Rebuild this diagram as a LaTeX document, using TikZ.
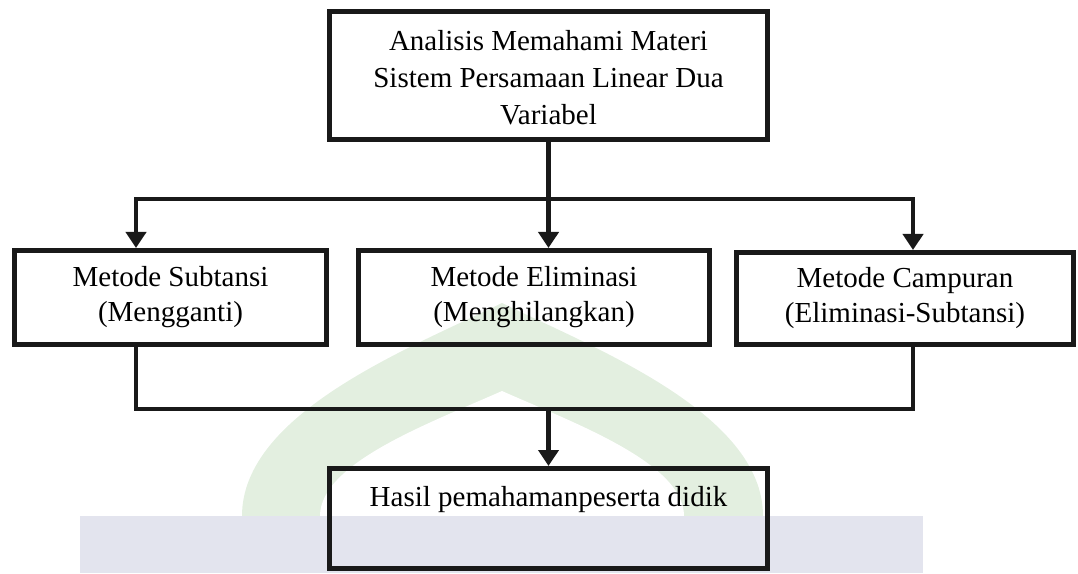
\documentclass[tikz,border=0pt]{standalone}
\usepackage{fontspec}
\setmainfont{Liberation Serif}
\usetikzlibrary{arrows.meta}
\definecolor{wmgreen}{HTML}{E3EFE0}
\definecolor{wmband}{HTML}{E3E4EE}
\begin{document}
\begin{tikzpicture}[x=1pt,y=1pt,
  box/.style={draw=black!90, line width=5pt, rectangle, inner sep=0pt, align=center, font=\fontsize{29}{35}\selectfont},
  conn/.style={draw=black!90, line width=4.5pt},
  arr/.style={conn, -{Triangle[length=16pt,width=20pt]}},
  txt/.style={align=center, inner sep=0pt, font=\fontsize{29}{37}\selectfont}]
\useasboundingbox (0,0) rectangle (1078,573);
% watermark
\fill[wmgreen] (242,57) .. controls (242,160) and (410,225) .. (502,270) .. controls (594,225) and (763,160) .. (763,57) -- cycle;
\fill[white] (320,57) .. controls (320,110) and (430,150) .. (502,182) .. controls (574,150) and (684,110) .. (684,57) -- cycle;
\fill[wmband] (80,0) rectangle (923,57);
% boxes
\node[box, minimum width=438pt, minimum height=128pt] (ntop) at (548.5,497.5) {};
\node[txt] (ntoptext) at (548.5,495) {Analisis Memahami Materi\\Sistem Persamaan Linear Dua\\Variabel};
\node[box, minimum width=312pt, minimum height=94pt] (nleft) at (170.5,275.5) {Metode Subtansi\\(Mengganti)};
\node[box, minimum width=351pt, minimum height=94pt] (nmid) at (534,275.5) {Metode Eliminasi\\(Menghilangkan)};
\node[box, minimum width=337pt, minimum height=92pt] (nright) at (905,274.5) {Metode Campuran\\(Eliminasi-Subtansi)};
\node[box, minimum width=438pt, minimum height=100pt] (nbot) at (548.5,54.5) {};
\node[txt] (nbottext) at (548.5,73) {Hasil pemahamanpeserta didik};
% connectors
\coordinate (hl) at (136,374);
\coordinate (hr) at (913,374);
\coordinate (bl) at (136,164);
\coordinate (br) at (913,164);
\draw[arr] (ntop.south) -- (ntop.south |- nmid.north);
\draw[conn, line cap=rect] (hl) -- (hr);
\draw[arr] (hl) -- (hl |- nleft.north);
\draw[arr] (hr) -- (hr |- nright.north);
\draw[conn, line join=miter] (bl |- nleft.south) -- (bl) -- (br) -- (br |- nright.south);
\draw[arr] (ntop.south |- bl) -- (nbot.north);
\end{tikzpicture}
\end{document}
